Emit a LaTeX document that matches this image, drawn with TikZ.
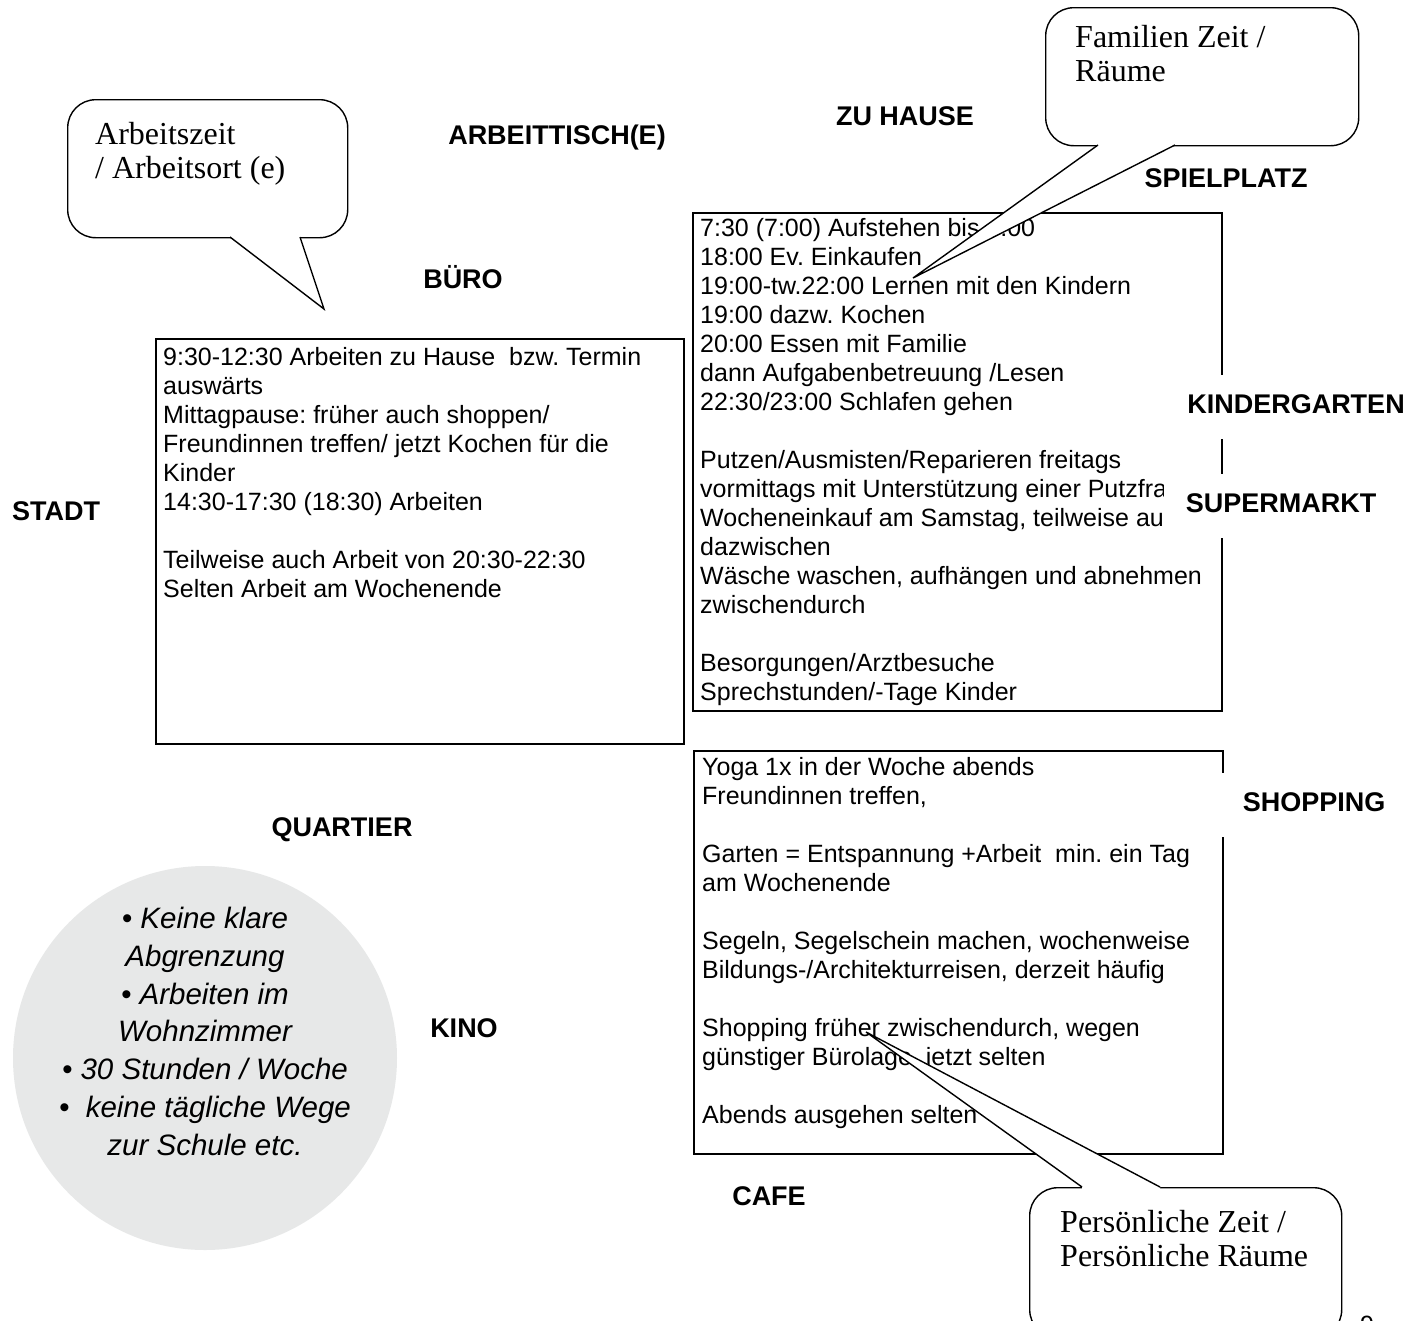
\documentclass[tikz,border=0pt]{standalone}
\usepackage{fontspec}
\setmainfont{Liberation Sans}
\newfontfamily\speechfont{Liberation Serif}
\usetikzlibrary{calc}
\definecolor{notegray}{HTML}{E7E8E8}
\frenchspacing
\begin{document}
\begin{tikzpicture}[x=1pt,y=-1pt,
  every node/.style={inner sep=0pt},
  frame/.style={draw, line width=1.8pt, anchor=north west},
  listing/.style={anchor=north west, align=left, font=\fontsize{25}{29}\selectfont},
  place/.style={anchor=base, font=\fontsize{27}{30}\selectfont\bfseries, text height=19.3pt, text depth=6pt},
  gap/.style={place, fill=white, inner xsep=22pt, minimum height=64pt},
  bubble/.style={draw, fill=white, line width=1.4pt, rounded corners=28pt, anchor=north west},
  tail/.style={line width=1.4pt, line join=miter},
  speech/.style={anchor=north west, align=left, font=\speechfont\fontsize{32}{34.5}\selectfont},
]
\useasboundingbox (0,0) rectangle (1421,1320);
\fill[white] (0,0) rectangle (1421,1320);

% schedule boxes
\node[frame, minimum width=528pt, minimum height=405pt] (work) at (155,338) {};
\node[frame, minimum width=529pt, minimum height=498pt] (home) at (692,212) {};
\node[frame, minimum width=529pt, minimum height=403pt] (free) at (693,750) {};

\node[listing] (workText) at (163,347) {%
9:30-12:30 Arbeiten zu Hause\ \ bzw. Termin\\
auswärts\\
Mittagpause: früher auch shoppen/\\
Freundinnen treffen/ jetzt Kochen für die\\
Kinder\\
14:30-17:30 (18:30) Arbeiten\\[29pt]
Teilweise auch Arbeit von 20:30-22:30\\
Selten Arbeit am Wochenende};

\node[listing] (homeText) at (700,218) {%
7:30 (7:00) Aufstehen bis \phantom{8}:00\\
18:00 Ev. Einkaufen\\
19:00-tw.22:00 Lernen mit den Kindern\\
19:00 dazw. Kochen\\
20:00 Essen mit Familie\\
dann Aufgabenbetreuung /Lesen\\
22:30/23:00 Schlafen gehen\\[29pt]
Putzen/Ausmisten/Reparieren freitags\\
vormittags mit Unterstützung einer Putzfra\\
Wocheneinkauf am Samstag, teilweise au\\
dazwischen\\
Wäsche waschen, aufhängen und abnehmen\\
zwischendurch\\[29pt]
Besorgungen/Arztbesuche\\
Sprechstunden/-Tage Kinder};

\node[listing] (freeText) at (702,757) {%
Yoga 1x in der Woche abends\\
Freundinnen treffen,\\[29pt]
Garten = Entspannung +Arbeit\ \ min. ein Tag\\
am Wochenende\\[29pt]
Segeln, Segelschein machen, wochenweise\\
Bildungs-/Architekturreisen, derzeit häufig\\[29pt]
Shopping früher zwischendurch, wegen\\
günstiger Bürolage\phantom{,} jetzt selten\\[29pt]
Abends ausgehen selten};

% place labels
\node[place] (desk) at (557,144.7) {ARBEITTISCH(E)};
\node[place] (house) at (905,125.7) {ZU HAUSE};
\node[place] (playground) at (1226,187.7) {SPIELPLATZ};
\node[place] (office) at (463,288.7) {BÜRO};
\node[gap] (kindergarten) at (1296,413.7) {KINDERGARTEN};
\node[place] (city) at (56,520.7) {STADT};
\node[gap] (market) at (1281,512.7) {SUPERMARKT};
\node[gap] (shopping) at (1314,811.7) {SHOPPING};
\node[place] (quarter) at (342,836.7) {QUARTIER};
\node[place] (cinema) at (464,1037.7) {KINO};
\node[place] (cafe) at (769,1205.7) {CAFE};

% summary disc
\node[circle, fill=notegray, minimum size=384pt] (disc) at (205,1058) {};
\node[anchor=north, align=center, font=\fontsize{29.5}{37.8}\selectfont\itshape] (discText) at (205,907) {%
• Keine klare\\
Abgrenzung\\
• Arbeiten im\\
Wohnzimmer\\
• 30 Stunden / Woche\\
•\ \ keine tägliche Wege\\
zur Schule etc.};

% page number, cut by the page edge
\node[anchor=base west, font=\fontsize{25}{29}\selectfont] (pagenum) at (1360,1333) {9};

% speech bubbles
\node[bubble, minimum width=280pt, minimum height=138pt] (bubWork) at (67,99) {};
\coordinate (wA) at (230,237);
\coordinate (wB) at (300,237);
\coordinate (wTip) at (324,309);
\fill[white] (wA) -- (wTip) -- (wB) -- ($(wB)+(0,-3)$) -- ($(wA)+(0,-3)$) -- cycle;
\draw[tail] (wA) -- (wTip) -- (wB);
\node[speech] (bubWorkText) at (95,122) {Arbeitszeit\\/ Arbeitsort (e)};

\node[bubble, minimum width=313pt, minimum height=138pt] (bubFamily) at (1045,7) {};
\coordinate (fA) at (1098,145);
\coordinate (fB) at (1175,145);
\coordinate (fTip) at (913,278);
\fill[white] (fA) -- (fTip) -- (fB) -- ($(fB)+(0,-3)$) -- ($(fA)+(0,-3)$) -- cycle;
\draw[tail] (fA) -- (fTip) -- (fB);
\node[speech] (bubFamilyText) at (1075,25) {Familien Zeit /\\Räume};

\node[bubble, minimum width=312pt, minimum height=150pt] (bubSelf) at (1029,1187) {};
\coordinate (sA) at (1082,1187);
\coordinate (sB) at (1160,1187);
\coordinate (sTip) at (866,1032);
\fill[white] (sA) -- (sTip) -- (sB) -- ($(sB)+(0,3)$) -- ($(sA)+(0,3)$) -- cycle;
\draw[tail] (sA) -- (sTip) -- (sB);
\node[speech] (bubSelfText) at (1060,1210) {Persönliche Zeit /\\Persönliche Räume};
\end{tikzpicture}
\end{document}
